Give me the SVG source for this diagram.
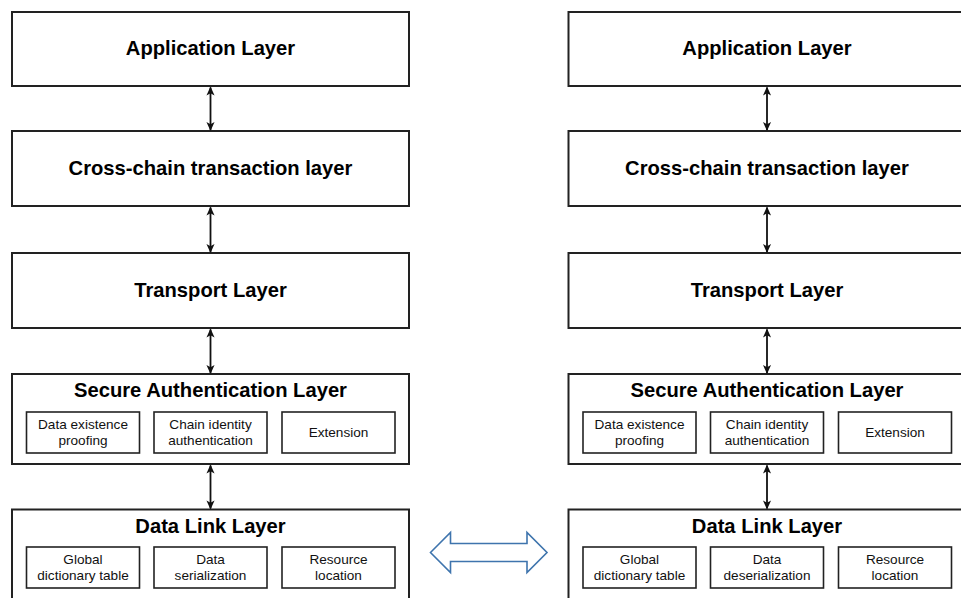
<svg xmlns="http://www.w3.org/2000/svg" width="961" height="598" viewBox="0 0 961 598">
  <defs>
    <style>
      .layer { fill: #fff; stroke: #222; stroke-width: 2; }
      .sub { fill: #fff; stroke: #222; stroke-width: 1.6; }
      .title { font-family: "Liberation Sans", Arial, sans-serif; font-weight: bold; font-size: 20.2px; fill: #000; text-anchor: middle; }
      .label { font-family: "Liberation Sans", Arial, sans-serif; font-size: 13.6px; fill: #111; text-anchor: middle; }
      .link { stroke: #111; stroke-width: 1.8; fill: none; marker-start: url(#head); marker-end: url(#head); }
    </style>
    <marker id="head" viewBox="0 0 10 10" refX="9" refY="5" markerWidth="10" markerHeight="9" markerUnits="userSpaceOnUse" orient="auto-start-reverse">
      <path d="M0,0.5 L10,5 L0,9.5 L2.5,5 Z" fill="#111"/>
    </marker>
  </defs>

  <rect width="961" height="598" fill="#fff"/>

  <!-- left stack -->
  <g id="left-stack">
    <g id="l-app"><rect class="layer" x="12" y="12" width="397" height="74"/><text class="title" x="210.5" y="55">Application Layer</text></g>
    <g id="l-cross"><rect class="layer" x="12" y="131" width="397" height="75"/><text class="title" x="210.5" y="174.5">Cross-chain transaction layer</text></g>
    <g id="l-transport"><rect class="layer" x="12" y="253" width="397" height="75"/><text class="title" x="210.5" y="296.5">Transport Layer</text></g>
    <g id="l-secure">
      <rect class="layer" x="12" y="374" width="397" height="90"/>
      <text class="title" x="210.5" y="397">Secure Authentication Layer</text>
      <g id="l-proof"><rect class="sub" x="26.5" y="412" width="113" height="41"/><text class="label" x="83" y="428.5">Data existence</text><text class="label" x="83" y="444.5">proofing</text></g>
      <g id="l-identity"><rect class="sub" x="154" y="412" width="113" height="41"/><text class="label" x="210.5" y="428.5">Chain identity</text><text class="label" x="210.5" y="444.5">authentication</text></g>
      <g id="l-ext"><rect class="sub" x="282" y="412" width="113" height="41"/><text class="label" x="338.5" y="436.5">Extension</text></g>
    </g>
    <g id="l-datalink">
      <rect class="layer" x="12" y="509.5" width="397" height="100"/>
      <text class="title" x="210.5" y="533">Data Link Layer</text>
      <g id="l-dict"><rect class="sub" x="26.5" y="547" width="113" height="41"/><text class="label" x="83" y="563.5">Global</text><text class="label" x="83" y="579.5">dictionary table</text></g>
      <g id="l-serial"><rect class="sub" x="154" y="547" width="113" height="41"/><text class="label" x="210.5" y="563.5">Data</text><text class="label" x="210.5" y="579.5">serialization</text></g>
      <g id="l-res"><rect class="sub" x="282" y="547" width="113" height="41"/><text class="label" x="338.5" y="563.5">Resource</text><text class="label" x="338.5" y="579.5">location</text></g>
    </g>
  </g>

  <!-- right stack -->
  <g id="right-stack" transform="translate(556.5,0)">
    <g id="r-app"><rect class="layer" x="12" y="12" width="397" height="74"/><text class="title" x="210.5" y="55">Application Layer</text></g>
    <g id="r-cross"><rect class="layer" x="12" y="131" width="397" height="75"/><text class="title" x="210.5" y="174.5">Cross-chain transaction layer</text></g>
    <g id="r-transport"><rect class="layer" x="12" y="253" width="397" height="75"/><text class="title" x="210.5" y="296.5">Transport Layer</text></g>
    <g id="r-secure">
      <rect class="layer" x="12" y="374" width="397" height="90"/>
      <text class="title" x="210.5" y="397">Secure Authentication Layer</text>
      <g id="r-proof"><rect class="sub" x="26.5" y="412" width="113" height="41"/><text class="label" x="83" y="428.5">Data existence</text><text class="label" x="83" y="444.5">proofing</text></g>
      <g id="r-identity"><rect class="sub" x="154" y="412" width="113" height="41"/><text class="label" x="210.5" y="428.5">Chain identity</text><text class="label" x="210.5" y="444.5">authentication</text></g>
      <g id="r-ext"><rect class="sub" x="282" y="412" width="113" height="41"/><text class="label" x="338.5" y="436.5">Extension</text></g>
    </g>
    <g id="r-datalink">
      <rect class="layer" x="12" y="509.5" width="397" height="100"/>
      <text class="title" x="210.5" y="533">Data Link Layer</text>
      <g id="r-dict"><rect class="sub" x="26.5" y="547" width="113" height="41"/><text class="label" x="83" y="563.5">Global</text><text class="label" x="83" y="579.5">dictionary table</text></g>
      <g id="r-deserial"><rect class="sub" x="154" y="547" width="113" height="41"/><text class="label" x="210.5" y="563.5">Data</text><text class="label" x="210.5" y="579.5">deserialization</text></g>
      <g id="r-res"><rect class="sub" x="282" y="547" width="113" height="41"/><text class="label" x="338.5" y="563.5">Resource</text><text class="label" x="338.5" y="579.5">location</text></g>
    </g>
  </g>

  <!-- connectors -->
  <g id="connectors">
    <line class="link" x1="210.5" y1="87.5" x2="210.5" y2="130"/>
    <line class="link" x1="210.5" y1="207.5" x2="210.5" y2="252"/>
    <line class="link" x1="210.5" y1="329.5" x2="210.5" y2="373"/>
    <line class="link" x1="210.5" y1="465.5" x2="210.5" y2="508.5"/>
    <line class="link" x1="767" y1="87.5" x2="767" y2="130"/>
    <line class="link" x1="767" y1="207.5" x2="767" y2="252"/>
    <line class="link" x1="767" y1="329.5" x2="767" y2="373"/>
    <line class="link" x1="767" y1="465.5" x2="767" y2="508.5"/>
    <!-- hollow exchange arrow between the two data link layers -->
    <path id="exchange" d="M430.5,552.5 L450.5,532.5 L450.5,543.5 L527,543.5 L527,532.5 L547,552.5 L527,572.5 L527,561.5 L450.5,561.5 L450.5,572.5 Z" fill="#fff" stroke="#3e74ad" stroke-width="1.6" stroke-linejoin="miter"/>
  </g>
</svg>
